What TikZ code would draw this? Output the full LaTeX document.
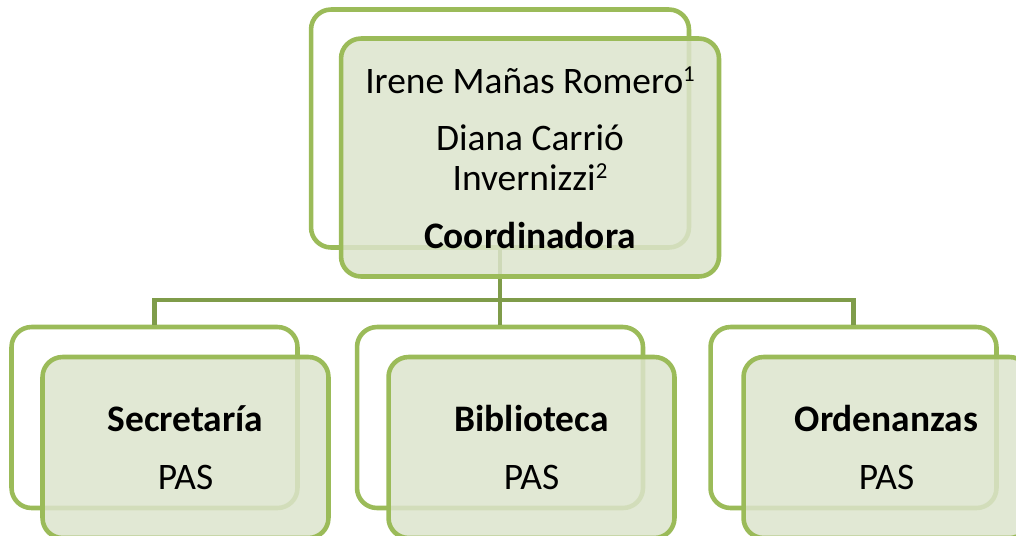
\documentclass[tikz,border=0pt]{standalone}
\usepackage{fontspec}
\setmainfont{Carlito}
\usetikzlibrary{calc}

\definecolor{boxline}{HTML}{9BBB59}
\definecolor{boxfill}{HTML}{DCE4CC}
\definecolor{linkline}{HTML}{7F9C4A}

\newcommand{\supnum}[1]{\raisebox{0.33em}{\fontsize{13}{13}\selectfont #1}}

\tikzset{
	backbox/.style={draw=boxline, line width=2.6pt, rounded corners=0.4cm, inner sep=0pt},
	frontbox/.style={backbox, fill=boxfill, fill opacity=0.85, text opacity=1, align=center, font=\fontsize{21.3}{22.7}\selectfont},
	topsize/.style={minimum width=7.56cm, minimum height=4.76cm},
	subsize/.style={minimum width=5.72cm, minimum height=3.62cm},
	link/.style={draw=linkline, line width=2.6pt},
}

\begin{document}
\begin{tikzpicture}[x=0.02cm, y=-0.02cm]
			\coordinate (bottomleft) at (0, 535);
			\coordinate (topright) at (1016, 0);
			\coordinate (bar) at (0, 300);
			
			\useasboundingbox (bottomleft) rectangle (topright);
			\clip (bottomleft) rectangle (topright);
			
			\node[backbox, topsize] (coordback) at (500, 128.5) {};
			\node[backbox, subsize] (secback) at (154.5, 417.5) {};
			\node[backbox, subsize] (bibback) at (500, 417.5) {};
			\node[backbox, subsize] (ordback) at (853.5, 417.5) {};
			
			\foreach \sub in {secback, bibback, ordback}
				\draw[link] (coordback.south) -- (coordback.south |- bar) -| (\sub.north);
			
			\node[frontbox, topsize] (coord) at (530, 157.5) {Irene Mañas Romero\supnum{1}\\[10pt] Diana Carrió\\ Invernizzi\supnum{2}\\[10pt] \textbf{Coordinadora}};
			\node[frontbox, subsize] (sec) at (185.5, 447.5) {\textbf{Secretaría}\\[10pt] PAS};
			\node[frontbox, subsize] (bib) at (531.5, 447.5) {\textbf{Biblioteca}\\[10pt] PAS};
			\node[frontbox, subsize] (ord) at (886.5, 447.5) {\textbf{Ordenanzas}\\[10pt] PAS};
			
		\end{tikzpicture}
\end{document}
